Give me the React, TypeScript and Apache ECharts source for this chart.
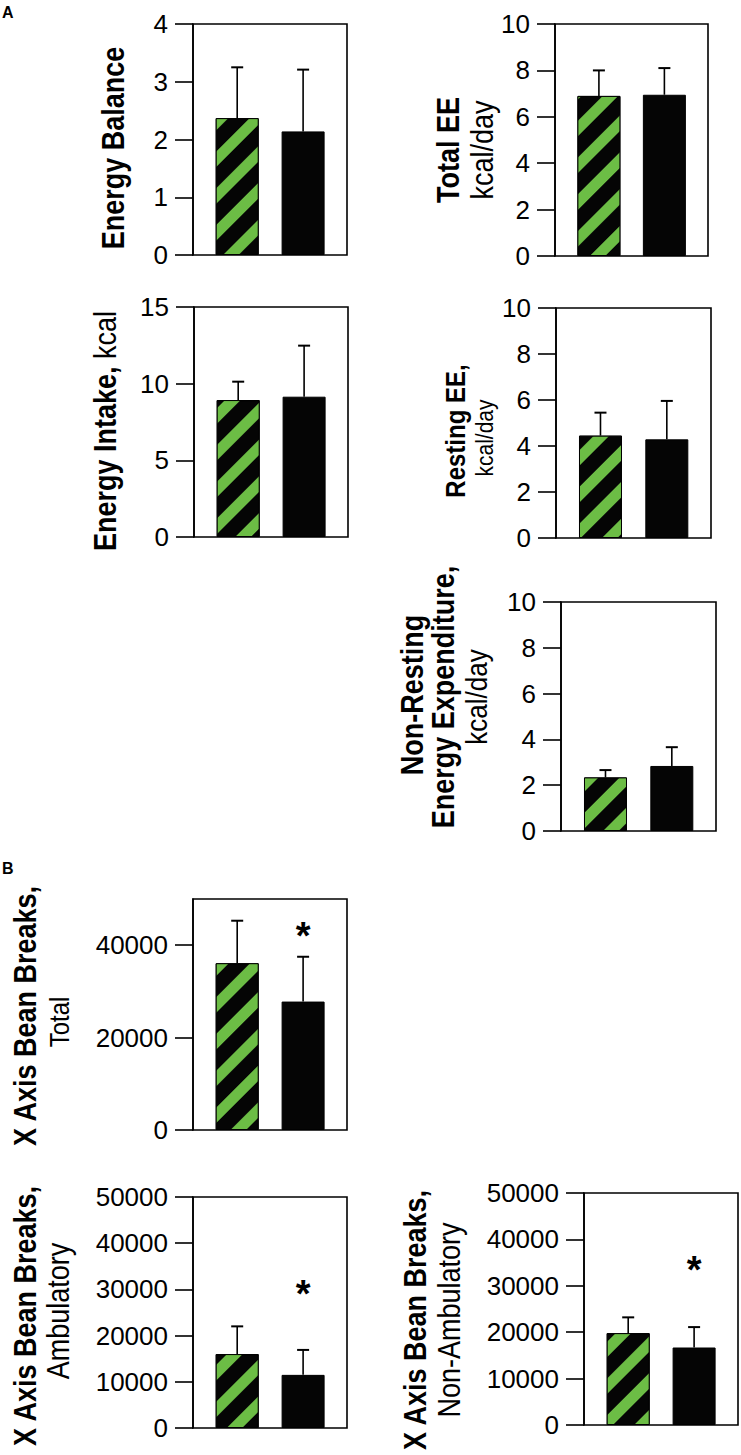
import { useEffect, useRef } from 'react';
import * as echarts from 'echarts';

// ---------- data ----------
const groups = ['Group 1', 'Group 2'];

const energyBalanceMean = [2.37, 2.14];
const energyBalanceSem = [0.88, 1.07];

const totalEEMean = [6.9, 6.95];
const totalEESem = [1.1, 1.15];

const energyIntakeMean = [8.93, 9.15];
const energyIntakeSem = [1.2, 3.33];

const restingEEMean = [4.45, 4.29];
const restingEESem = [1.0, 1.67];

const nonRestingEEMean = [2.34, 2.84];
const nonRestingEESem = [0.32, 0.82];

const beamTotalMean = [36100, 27800];
const beamTotalSem = [9200, 9700];

const beamAmbMean = [16000, 11500];
const beamAmbSem = [6000, 5400];

const beamNonAmbMean = [19800, 16700];
const beamNonAmbSem = [3400, 4400];

// significance marks: [group index, y value]
const beamTotalSig = [[1, 43500]];
const beamAmbSig = [[1, 30600]];
const beamNonAmbSig = [[1, 34850]];

// y axis scales
const yMaxA1 = 4, yIntA1 = 1;
const yMaxA2 = 10, yIntA2 = 2;
const yMaxA3 = 15, yIntA3 = 5;
const yMaxB = 50000, yIntB = 10000;
const beamTotalTicks = [0, 20000, 40000];

// ---------- layout ----------
const GREEN = '#6cbd45';
const FONT = '"Liberation Sans", Arial, Helvetica, sans-serif';
const STRETCH = 1.15;

type Panel = {
  box: number[];
  mean: number[];
  sem: number[];
  max: number;
  interval: number;
  customTicks?: number[];
  sig?: number[][];
};

const panels: Panel[] = [
  { box: [193, 24, 154, 231], mean: energyBalanceMean, sem: energyBalanceSem, max: yMaxA1, interval: yIntA1 },
  { box: [555, 24, 153, 232], mean: totalEEMean, sem: totalEESem, max: yMaxA2, interval: yIntA2 },
  { box: [194, 307, 154, 230], mean: energyIntakeMean, sem: energyIntakeSem, max: yMaxA3, interval: yIntA3 },
  { box: [556, 308, 155, 230], mean: restingEEMean, sem: restingEESem, max: yMaxA2, interval: yIntA2 },
  { box: [561, 602, 155, 229], mean: nonRestingEEMean, sem: nonRestingEESem, max: yMaxA2, interval: yIntA2 },
  { box: [193, 899, 154, 231], mean: beamTotalMean, sem: beamTotalSem, max: yMaxB, interval: yIntB, customTicks: beamTotalTicks, sig: beamTotalSig },
  { box: [193, 1197, 154, 231], mean: beamAmbMean, sem: beamAmbSem, max: yMaxB, interval: yIntB, sig: beamAmbSig },
  { box: [584, 1193, 154, 232], mean: beamNonAmbMean, sem: beamNonAmbSem, max: yMaxB, interval: yIntB, sig: beamNonAmbSig },
];

// x positions: group 0 at 28.7% and group 1 at 71.5% of box width
const X_MIN = -0.6706;
const X_MAX = 1.666;

const boldFont = (s: number) => `bold ${s}px ${FONT}`;
const regFont = (s: number) => `${s}px ${FONT}`;

function vtext(text: string, x: number, y: number, font: string) {
  return {
    type: 'text',
    x,
    y,
    rotation: Math.PI / 2,
    scaleY: STRETCH,
    style: {
      text,
      font,
      fill: '#000',
      align: 'center',
      verticalAlign: 'middle',
      textAlign: 'center',
      textVerticalAlign: 'middle',
    },
  };
}

function buildOption() {
  const grid: any[] = [];
  const xAxis: any[] = [];
  const yAxis: any[] = [];
  const series: any[] = [];

  panels.forEach((p, i) => {
    grid.push({
      left: p.box[0],
      top: p.box[1],
      width: p.box[2],
      height: p.box[3],
      show: true,
      borderColor: '#000',
      borderWidth: 1.6,
      backgroundColor: 'transparent',
      containLabel: false,
      outerBoundsMode: 'none',
    });
    xAxis.push({
      type: 'value',
      gridIndex: i,
      min: X_MIN,
      max: X_MAX,
      show: false,
    });
    const tickExtra = p.customTicks ? { customValues: p.customTicks } : {};
    yAxis.push({
      type: 'value',
      gridIndex: i,
      position: 'left',
      min: 0,
      max: p.max,
      interval: p.interval,
      axisLine: { show: true, onZero: false, lineStyle: { color: '#000', width: 1.6 } },
      axisTick: { show: true, length: 18, inside: false, lineStyle: { color: '#000', width: 1.6 }, ...tickExtra },
      axisLabel: {
        show: true,
        color: '#000',
        fontSize: 26,
        fontFamily: FONT,
        margin: 25,
        formatter: (v: number) => String(v),
        ...tickExtra,
      },
      splitLine: { show: false },
    });

    series.push({
      type: 'bar',
      xAxisIndex: i,
      yAxisIndex: i,
      barWidth: 43,
      name: groups.join(' / '),
      data: p.mean.map((m, g) => ({
        value: [g, m],
        itemStyle:
          g === 0
            ? {
                color: '#050505',
                borderColor: '#000',
                borderWidth: 1,
                decal: {
                  symbol: 'rect',
                  symbolSize: 1,
                  color: GREEN,
                  dashArrayX: [1, 0],
                  dashArrayY: [11, 15],
                  rotation: -Math.PI / 4,
                },
              }
            : { color: '#050505', borderColor: '#000', borderWidth: 1 },
      })),
    });

    series.push({
      type: 'custom',
      xAxisIndex: i,
      yAxisIndex: i,
      z: 5,
      dimensions: ['x', 'y', 'top'],
      encode: { x: 0, y: [1, 2] },
      data: p.mean.map((m, g) => [g, m, m + p.sem[g]]),
      renderItem: (params: any, api: any) => {
        const x = api.value(0);
        const p0 = api.coord([x, api.value(1)]);
        const p1 = api.coord([x, api.value(2)]);
        return {
          type: 'group',
          children: [
            { type: 'line', shape: { x1: p0[0], y1: p0[1], x2: p1[0], y2: p1[1] }, style: { stroke: '#000', lineWidth: 1.6 } },
            { type: 'line', shape: { x1: p1[0] - 6, y1: p1[1], x2: p1[0] + 6, y2: p1[1] }, style: { stroke: '#000', lineWidth: 2 } },
          ],
        };
      },
    });

    if (p.sig) {
      series.push({
        type: 'custom',
        xAxisIndex: i,
        yAxisIndex: i,
        z: 6,
        data: p.sig,
        renderItem: (params: any, api: any) => {
          const pt = api.coord([api.value(0), api.value(1)]);
          return {
            type: 'text',
            x: pt[0],
            y: pt[1] + 7,
            style: {
              text: '*',
              font: boldFont(38),
              fill: '#000',
              align: 'center',
              verticalAlign: 'middle',
            },
          };
        },
      });
    }
  });

  const graphic: any[] = [
    { type: 'text', left: 2, top: 4, style: { text: 'A', font: boldFont(16), fill: '#000' } },
    { type: 'text', left: 2, top: 860, style: { text: 'B', font: boldFont(16), fill: '#000' } },
    vtext('Energy Balance', 113, 148, boldFont(27)),
    vtext('Total EE', 448, 150, boldFont(27)),
    vtext('kcal/day', 482, 150, regFont(27)),
    {
      type: 'text',
      x: 105,
      y: 431,
      rotation: Math.PI / 2,
      scaleY: STRETCH,
      style: {
        text: '{b|Energy Intake,}{r| kcal}',
        align: 'center',
        verticalAlign: 'middle',
        rich: {
          b: { fontWeight: 'bold', fontSize: 27, fontFamily: FONT, fill: '#000' },
          r: { fontSize: 27, fontFamily: FONT, fill: '#000' },
        },
      },
    },
    vtext('Resting EE,', 455, 431, boldFont(24)),
    vtext('kcal/day', 485, 438, regFont(21)),
    vtext('Non-Resting', 412, 695, boldFont(27)),
    vtext('Energy Expenditure,', 443, 697, boldFont(27)),
    vtext('kcal/day', 477, 697, regFont(26)),
    vtext('X Axis Bean Breaks,', 25, 1016, boldFont(27)),
    vtext('Total', 59, 1022, regFont(24)),
    vtext('X Axis Bean Breaks,', 25, 1316, boldFont(27)),
    vtext('Ambulatory', 58, 1311, regFont(27)),
    vtext('X Axis Bean Breaks,', 415, 1320, boldFont(27)),
    vtext('Non-Ambulatory', 449, 1320, regFont(27)),
  ];

  return {
    animation: false,
    backgroundColor: '#fff',
    grid,
    xAxis,
    yAxis,
    series,
    graphic,
  };
}

export default function App() {
  const ref = useRef<HTMLDivElement>(null);
  useEffect(() => {
    document.body.style.margin = '0';
    if (!ref.current) return;
    const chart = echarts.init(ref.current, undefined, { renderer: 'svg' });
    chart.setOption(buildOption() as any);
    return () => chart.dispose();
  }, []);
  return <div ref={ref} style={{ width: 741, height: 1455 }} />;
}
